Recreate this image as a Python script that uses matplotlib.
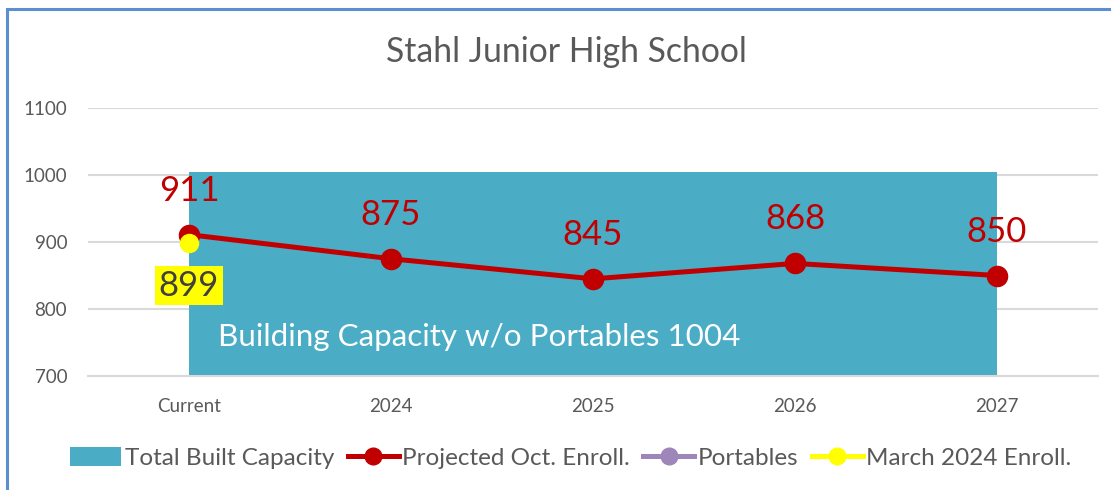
import matplotlib
matplotlib.use("Agg")
import matplotlib.pyplot as plt
from matplotlib.patches import Rectangle, Patch
from matplotlib.lines import Line2D

categories = ["Current", "2024", "2025", "2026", "2027"]
capacity = [1004, 1004, 1004, 1004, 1004]
projected = [911, 875, 845, 868, 850]
march_cat = ["Current"]
march = [899]
title = "Stahl Junior High School"
capacity_text = "Building Capacity w/o Portables 1004"

plt.rcParams['font.family'] = ['Lato', 'DejaVu Sans']
GREY = "#595959"
TEAL = "#4BACC6"
RED = "#C00000"
YELLOW = "#FFFF00"
PURPLE = "#9E86BA"

fig = plt.figure(figsize=(11.11, 4.90), dpi=100)
ax = fig.add_axes([88/1111, 1-376/490, 1010/1111, 268/490])

x = list(range(len(categories)))
ax.fill_between(x, 700, capacity, color=TEAL, lw=0, zorder=2)
ax.plot(x, projected, color=RED, lw=3.6, marker='o', ms=14.5, zorder=4,
        solid_capstyle='round')
mx = [categories.index(c) for c in march_cat]
ax.plot(mx, march, color=YELLOW, lw=0, marker='o', ms=13, zorder=5)

for xi, v in zip(x, projected):
    ax.annotate(str(v), (xi, v), xytext=(0, 44), textcoords='offset pixels',
                ha='center', va='center', color=RED, fontsize=25, zorder=6)
for xi, v in zip(mx, march):
    ax.annotate(str(v), (xi, v), xytext=(0, -43), textcoords='offset pixels',
                ha='center', va='center', color="#404040", fontsize=25, zorder=6,
                bbox=dict(boxstyle='square,pad=0.1', fc=YELLOW, ec='none'))

ax.text(0.145, 758, capacity_text, color='white', fontsize=22.6,
        ha='left', va='center', zorder=6)

ax.set_xlim(-0.5, 4.5)
ax.set_ylim(700, 1100)
ax.set_yticks([700, 800, 900, 1000, 1100])
ax.set_xticks(x)
ax.set_xticklabels(categories)
ax.grid(axis='y', color='#D9D9D9', lw=1.5, zorder=0)
ax.set_axisbelow(True)
for s in ['top', 'right', 'left']:
    ax.spines[s].set_visible(False)
ax.spines['bottom'].set_color('#D9D9D9')
ax.spines['bottom'].set_linewidth(1.5)
ax.tick_params(axis='both', length=0, labelcolor=GREY, labelsize=13.5)
ax.tick_params(axis='y', pad=15)
ax.tick_params(axis='x', pad=16)

fig.text(566/1111, 1-52/490, title, ha='center', va='center',
         color=GREY, fontsize=24.3)

handles = [
    Patch(facecolor=TEAL, edgecolor='none'),
    Line2D([], [], color=RED, lw=3.6, marker='o', ms=12),
    Line2D([], [], color=PURPLE, lw=3.6, marker='o', ms=12),
    Line2D([], [], color=YELLOW, lw=3.6, marker='o', ms=12),
]
labels = ["Total Built Capacity", "Projected Oct. Enroll.", "Portables", "March 2024 Enroll."]
leg = fig.legend(handles, labels, loc='center', bbox_to_anchor=(571/1111, 1-458/490),
                 ncol=4, frameon=False, fontsize=17.5, handlelength=2.1,
                 handletextpad=0.15, columnspacing=0.54, labelcolor=GREY,
                 handleheight=0.85)

fig.add_artist(Rectangle((6.5/1111, -0.2), 1.2, 1.2 - 8.5/490 + 0.0,
                         transform=fig.transFigure, fill=False,
                         ec="#5B8FD0", lw=2.2, zorder=10))

fig.savefig("out.png", dpi=100)
